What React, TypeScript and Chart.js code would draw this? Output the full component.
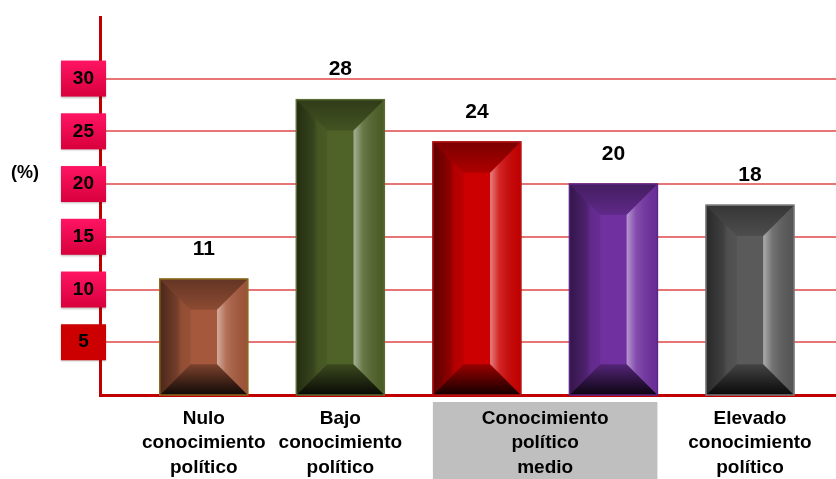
import React, { useEffect, useRef } from "react";
import { Chart, registerables } from "chart.js";

Chart.register(...registerables);

// ---- data ----
const BAR_POSITIONS = [0, 1, 2, 3, 4];
const BAR_VALUES = [11, 28, 24, 20, 18];
const AXIS_LABEL_POSITIONS = [0, 1, 2.5, 4];
const AXIS_LABELS = [
  ["Nulo", "conocimiento", "político"],
  ["Bajo", "conocimiento", "político"],
  ["Conocimiento", "político", "medio"],
  ["Elevado", "conocimiento", "político"],
];
const Y_TICKS = [5, 10, 15, 20, 25, 30];
const Y_UNIT = "(%)";

// ---- styles ----
const BAR_COLORS = ["#a5583b", "#4f6228", "#cc0000", "#7030a0", "#5a5a5a"];
const BAR_BORDERS = ["#8a6a1e", "#5a6b34", "#b01515", "#5a2585", "#7a7a7a"];
const AXIS_RED = "#c00000";
const FONT = '"Liberation Sans", Arial, Helvetica, sans-serif';

const decorPlugin = {
  id: "decor",
  beforeDraw(chart: any) {
    const { ctx, chartArea } = chart;
    const xs = chart.scales.x;
    const halfBar = 44;
    const left = xs.getPixelForValue(2) - halfBar;
    const right = xs.getPixelForValue(3) + halfBar;
    ctx.save();
    ctx.fillStyle = "#bfbfbf";
    ctx.fillRect(left, chartArea.bottom + 7, right - left, chart.height - chartArea.bottom - 7);
    ctx.restore();
  },
  beforeDatasetsDraw(chart: any) {
    const { ctx, chartArea } = chart;
    const ys = chart.scales.y;
    ctx.save();
    ys.ticks.forEach((t: any) => {
      const py = ys.getPixelForValue(t.value);
      const bx = chartArea.left - 39;
      const bw = 45;
      const bh = 36;
      const by = py - bh / 2;
      ctx.shadowColor = "rgba(0,0,0,0.25)";
      ctx.shadowBlur = 2;
      ctx.shadowOffsetY = 1;
      if (t.value === 5) {
        ctx.fillStyle = "#cc0000";
      } else {
        const g = ctx.createLinearGradient(0, by, 0, by + bh);
        g.addColorStop(0, "#ff1463");
        g.addColorStop(1, "#d8003c");
        ctx.fillStyle = g;
      }
      ctx.fillRect(bx, by, bw, bh);
    });
    ctx.restore();
  },
  afterDatasetsDraw(chart: any) {
    const { ctx } = chart;
    const meta = chart.getDatasetMeta(0);
    ctx.save();
    meta.data.forEach((el: any, i: number) => {
      const { x, y, base, width } = el.getProps(["x", "y", "base", "width"], true);
      const L = x - width / 2;
      const R = x + width / 2;
      const T = Math.min(y, base);
      const B = Math.max(y, base);
      const h = B - T;
      const b = Math.min(width * 0.35, h / 2);

      // left bevel
      let g = ctx.createLinearGradient(L, 0, L + b, 0);
      g.addColorStop(0, "rgba(0,0,0,0.55)");
      g.addColorStop(0.55, "rgba(0,0,0,0.3)");
      g.addColorStop(0.7, "rgba(0,0,0,0.12)");
      g.addColorStop(1, "rgba(0,0,0,0.08)");
      ctx.fillStyle = g;
      ctx.beginPath();
      ctx.moveTo(L, T); ctx.lineTo(L + b, T + b); ctx.lineTo(L + b, B - b); ctx.lineTo(L, B);
      ctx.closePath(); ctx.fill();

      // right bevel
      g = ctx.createLinearGradient(R - b, 0, R, 0);
      g.addColorStop(0, "rgba(255,255,255,0.5)");
      g.addColorStop(0.3, "rgba(255,255,255,0.15)");
      g.addColorStop(1, "rgba(0,0,0,0.05)");
      ctx.fillStyle = g;
      ctx.beginPath();
      ctx.moveTo(R, T); ctx.lineTo(R - b, T + b); ctx.lineTo(R - b, B - b); ctx.lineTo(R, B);
      ctx.closePath(); ctx.fill();

      // top bevel
      g = ctx.createLinearGradient(0, T, 0, T + b);
      g.addColorStop(0, "rgba(0,0,0,0.4)");
      g.addColorStop(1, "rgba(0,0,0,0.15)");
      ctx.fillStyle = g;
      ctx.beginPath();
      ctx.moveTo(L, T); ctx.lineTo(R, T); ctx.lineTo(R - b, T + b); ctx.lineTo(L + b, T + b);
      ctx.closePath(); ctx.fill();

      // bottom bevel
      g = ctx.createLinearGradient(0, B - b, 0, B);
      g.addColorStop(0, "rgba(0,0,0,0.25)");
      g.addColorStop(1, "rgba(0,0,0,0.9)");
      ctx.fillStyle = g;
      ctx.beginPath();
      ctx.moveTo(L, B); ctx.lineTo(R, B); ctx.lineTo(R - b, B - b); ctx.lineTo(L + b, B - b);
      ctx.closePath(); ctx.fill();

      // outline
      ctx.strokeStyle = BAR_BORDERS[i];
      ctx.lineWidth = 1.5;
      ctx.strokeRect(L, T, width, h);

      // value label
      ctx.fillStyle = "#000";
      ctx.font = `bold 21px ${FONT}`;
      ctx.textAlign = "center";
      ctx.textBaseline = "middle";
      ctx.fillText(String(BAR_VALUES[i]), x, T - 30);
    });
    ctx.restore();
  },
  afterDraw(chart: any) {
    const { ctx } = chart;
    ctx.save();
    ctx.fillStyle = "#000";
    ctx.font = `bold 18px ${FONT}`;
    ctx.textAlign = "center";
    ctx.textBaseline = "middle";
    ctx.fillText(Y_UNIT, 25, 173);
    ctx.restore();
  },
};

export default function App() {
  const ref = useRef<HTMLCanvasElement | null>(null);

  useEffect(() => {
    if (!ref.current) return;
    const chart = new Chart(ref.current, {
      type: "bar",
      data: {
        datasets: [
          {
            data: BAR_POSITIONS.map((p, i) => ({ x: p, y: BAR_VALUES[i] })),
            backgroundColor: BAR_COLORS,
            borderWidth: 0,
            barThickness: 88,
          },
        ],
      },
      options: {
        animation: false,
        responsive: true,
        maintainAspectRatio: false,
        layout: { padding: { top: 8, right: 0, left: 0, bottom: 0 } },
        plugins: { legend: { display: false }, tooltip: { enabled: false } },
        scales: {
          x: {
            type: "linear",
            offset: false,
            min: -0.76,
            max: 4.63,
            grid: { display: false, drawTicks: false, offset: false },
            border: { color: AXIS_RED, width: 3 },
            afterBuildTicks: (s: any) => {
              s.ticks = AXIS_LABEL_POSITIONS.map((v) => ({ value: v }));
            },
            afterFit: (s: any) => {
              s.height = 84;
            },
            ticks: {
              autoSkip: false,
              maxRotation: 0,
              padding: 12,
              color: "#000",
              font: { family: FONT, size: 19, weight: "bold", lineHeight: 1.27 },
              callback: (v: any) => {
                const idx = AXIS_LABEL_POSITIONS.indexOf(Number(v));
                return idx >= 0 ? AXIS_LABELS[idx] : "";
              },
            },
          },
          y: {
            type: "linear",
            min: 0,
            max: 35.8,
            afterBuildTicks: (s: any) => {
              s.ticks = Y_TICKS.map((v) => ({ value: v }));
            },
            afterFit: (s: any) => {
              s.width = 100;
            },
            grid: { color: "rgba(220,60,60,0.7)", lineWidth: 2, drawTicks: false },
            border: { color: AXIS_RED, width: 3 },
            ticks: {
              z: 1,
              crossAlign: "center",
              padding: 6,
              color: "#000",
              font: { family: FONT, size: 19, weight: "bold" },
            },
          },
        },
      },
      plugins: [decorPlugin],
    } as any);
    return () => chart.destroy();
  }, []);

  return (
    <div style={{ position: "absolute", left: 0, top: 0, width: 836, height: 479, background: "#fff" }}>
      <canvas ref={ref} />
    </div>
  );
}
